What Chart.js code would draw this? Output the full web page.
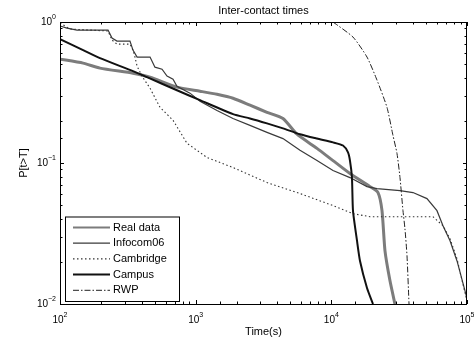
<!DOCTYPE html>
<html>
<head>
<meta charset="utf-8">
<script src="https://cdn.jsdelivr.net/npm/chart.js@4/dist/chart.umd.min.js"></script>
<style>
html, body { margin: 0; padding: 0; background: #fff; }
#wrap { width: 474px; height: 341px; }
</style>
</head>
<body>
<div id="wrap"><canvas id="icChart"></canvas></div>
<script>
var seriesNames = ["Real data", "Infocom06", "Cambridge", "Campus", "RWP"];

// values (time in s, P[t>T])
var realX = [100, 148, 197, 345, 461, 728, 1076, 1436, 1884, 2514, 3355, 4402, 5585, 7838, 10286, 13720, 19270, 22080, 23630, 24860, 27060, 29440];
var realY = [0.545, 0.511, 0.471, 0.433, 0.406, 0.345, 0.323, 0.307, 0.288, 0.257, 0.229, 0.207, 0.160, 0.127, 0.104, 0.0842, 0.068, 0.0617, 0.0459, 0.0238, 0.0146, 0.010];

var infocomX = [100, 112.6, 133.5, 226, 241.7, 263, 328, 345, 370, 461, 501, 565, 615, 681, 728, 908, 1076, 1436, 1884, 2514, 3355, 4402, 5875, 7838, 10286, 13720, 18320, 21710, 32060, 39980, 50680, 60070, 66520, 74970, 84420, 96680, 100000];
var infocomY = [0.937, 0.906, 0.877, 0.877, 0.769, 0.732, 0.732, 0.632, 0.564, 0.564, 0.478, 0.463, 0.413, 0.393, 0.350, 0.313, 0.274, 0.236, 0.207, 0.185, 0.165, 0.149, 0.123, 0.104, 0.0885, 0.0788, 0.068, 0.0658, 0.0637, 0.0617, 0.0559, 0.0459, 0.0359, 0.0281, 0.0202, 0.0124, 0.0109];

var cambridgeX = [100, 118.5, 226, 241.7, 263, 328, 345, 357, 370, 402, 461, 546, 681, 863, 1212, 1884, 3355, 5875, 10286, 14440, 19270, 56110, 66520, 74970, 84420, 96680, 100000];
var cambridgeY = [0.984, 0.892, 0.863, 0.745, 0.697, 0.697, 0.632, 0.564, 0.486, 0.413, 0.339, 0.248, 0.201, 0.138, 0.1094, 0.0929, 0.0727, 0.0607, 0.0499, 0.0437, 0.0416, 0.0416, 0.0359, 0.029, 0.0209, 0.012, 0.0105];

var campusX = [100, 148, 197, 345, 438, 728, 1076, 1884, 2514, 3355, 4402, 5875, 7838, 10286, 12190, 13270, 13720, 14190, 14440, 15460, 16270, 18320, 20280];
var campusY = [0.757, 0.632, 0.554, 0.448, 0.406, 0.328, 0.279, 0.222, 0.207, 0.191, 0.176, 0.160, 0.149, 0.140, 0.133, 0.119, 0.104, 0.0788, 0.0459, 0.0281, 0.0202, 0.0130, 0.010];

var rwpX = [10290, 14440, 18320, 21710, 25720, 28460, 30470, 32060, 33730, 34900, 36120, 37380];
var rwpY = [1.0, 0.782, 0.564, 0.387, 0.248, 0.157, 0.117, 0.079, 0.046, 0.034, 0.022, 0.010];

var lineColors = ["#7c7c7c", "#3a3a3a", "#333333", "#111111", "#222222"];
var lineWidths = [3, 1.2, 1.1, 2, 1];
var lineDashes = [[], [], [1.5, 2.5], [], [6, 2, 1.5, 2]];

function toPoints(xs, ys) {
    return xs.map(function (x, i) { return { x: x, y: ys[i] }; });
}

var allX = [realX, infocomX, cambridgeX, campusX, rwpX];
var allY = [realY, infocomY, cambridgeY, campusY, rwpY];

var datasets = seriesNames.map(function (name, i) {
    return {
        label: name,
        data: toPoints(allX[i], allY[i]),
        borderColor: lineColors[i],
        borderWidth: lineWidths[i],
        borderDash: lineDashes[i],
        pointRadius: 0,
        fill: false,
        tension: (i === 1 || i === 2) ? 0 : 0.2,
        order: 5 - i
    };
});

function isDecade(v) {
    var l = Math.log10(v);
    return Math.abs(l - Math.round(l)) < 1e-6;
}

// box, inward ticks, 10^n labels, title, legend - matlab look
var matlabLook = {
    id: "matlabLook",
    afterDraw: function (chart) {
        var ctx = chart.ctx;
        var a = chart.chartArea;
        var xs = chart.scales.x;
        var ys = chart.scales.y;

        ctx.save();
        ctx.strokeStyle = "#000";
        ctx.lineWidth = 1;
        ctx.setLineDash([]);
        ctx.strokeRect(a.left + 0.5, a.top + 0.5, a.right - a.left - 1, a.bottom - a.top);

        ctx.beginPath();
        xs.ticks.forEach(function (t) {
            var px = Math.round(xs.getPixelForValue(t.value)) + 0.5;
            var len = isDecade(t.value) ? 4 : 2.5;
            ctx.moveTo(px, a.bottom); ctx.lineTo(px, a.bottom - len);
            ctx.moveTo(px, a.top); ctx.lineTo(px, a.top + len);
        });
        ys.ticks.forEach(function (t) {
            var py = Math.round(ys.getPixelForValue(t.value)) + 0.5;
            var len = isDecade(t.value) ? 4 : 2.5;
            ctx.moveTo(a.left, py); ctx.lineTo(a.left + len, py);
            ctx.moveTo(a.right, py); ctx.lineTo(a.right - len, py);
        });
        ctx.stroke();

        // tick labels 10^n
        ctx.fillStyle = "#000";
        ctx.textBaseline = "middle";
        var baseFont = "10px 'Liberation Sans', Arial, sans-serif";
        var expFont = "7px 'Liberation Sans', Arial, sans-serif";
        xs.ticks.forEach(function (t) {
            if (!isDecade(t.value)) return;
            var e = String(Math.round(Math.log10(t.value)));
            ctx.font = baseFont; var wb = ctx.measureText("10").width;
            ctx.font = expFont; var we = ctx.measureText(e).width;
            var x0 = xs.getPixelForValue(t.value) - (wb + we) / 2;
            ctx.textAlign = "left";
            ctx.font = baseFont; ctx.fillText("10", x0, a.bottom + 16);
            ctx.font = expFont; ctx.fillText(e, x0 + wb, a.bottom + 11);
        });
        ys.ticks.forEach(function (t) {
            if (!isDecade(t.value)) return;
            var e = String(Math.round(Math.log10(t.value))).replace("-", "\u2212");
            ctx.font = expFont; var we = ctx.measureText(e).width;
            var py = ys.getPixelForValue(t.value);
            var xr = a.left - 4;
            ctx.textAlign = "right";
            ctx.font = expFont; ctx.fillText(e, xr, py - 5);
            ctx.font = baseFont; ctx.fillText("10", xr - we, py);
        });

        // title
        ctx.font = "11px 'Liberation Sans', Arial, sans-serif";
        ctx.textAlign = "center";
        ctx.fillText("Inter-contact times", (a.left + a.right) / 2, 11);

        // legend box inside the axes, bottom left
        var bx = a.left + 5, bw = 114, rowH = 15.7;
        var bh = rowH * seriesNames.length + 6;
        var by = a.bottom - 3 - bh;
        ctx.fillStyle = "#fff";
        ctx.fillRect(bx, by, bw, bh);
        ctx.strokeStyle = "#000";
        ctx.lineWidth = 1;
        ctx.strokeRect(bx + 0.5, by + 0.5, bw, bh);
        chart.data.datasets.forEach(function (ds, i) {
            var cy = by + 11 + i * rowH;
            ctx.save();
            ctx.strokeStyle = ds.borderColor;
            ctx.lineWidth = Math.min(ds.borderWidth, 2.2);
            ctx.setLineDash(ds.borderDash);
            ctx.beginPath();
            ctx.moveTo(bx + 8, cy); ctx.lineTo(bx + 45, cy);
            ctx.stroke();
            ctx.restore();
            ctx.fillStyle = "#000";
            ctx.font = "11px 'Liberation Sans', Arial, sans-serif";
            ctx.textAlign = "left";
            ctx.fillText(ds.label, bx + 48, cy);
        });
        ctx.restore();
    }
};

new Chart("icChart", {
    type: "line",
    data: { datasets: datasets },
    options: {
        responsive: true,
        maintainAspectRatio: false,
        animation: false,
        devicePixelRatio: 1,
        layout: { padding: { top: 22, right: 7, left: 0, bottom: 0 } },
        plugins: {
            legend: { display: false },
            title: { display: false },
            tooltip: { enabled: false }
        },
        scales: {
            x: {
                type: "logarithmic",
                min: 100,
                max: 100000,
                grid: { display: false },
                border: { display: false },
                ticks: { display: false, autoSkip: false },
                title: {
                    display: true,
                    text: "Time(s)",
                    color: "#000",
                    font: { family: "'Liberation Sans', Arial, sans-serif", size: 11 },
                    padding: { top: 0, bottom: 2 }
                },
                afterFit: function (s) { s.height = 37; }
            },
            y: {
                type: "logarithmic",
                min: 0.01,
                max: 1,
                grid: { display: false },
                border: { display: false },
                ticks: { display: false, autoSkip: false },
                title: {
                    display: true,
                    text: "P[t>T]",
                    color: "#000",
                    font: { family: "'Liberation Sans', Arial, sans-serif", size: 11 },
                    padding: { top: 17, bottom: 0 }
                },
                afterFit: function (s) { s.width = 60; }
            }
        }
    },
    plugins: [matlabLook]
});
</script>
</body>
</html>
